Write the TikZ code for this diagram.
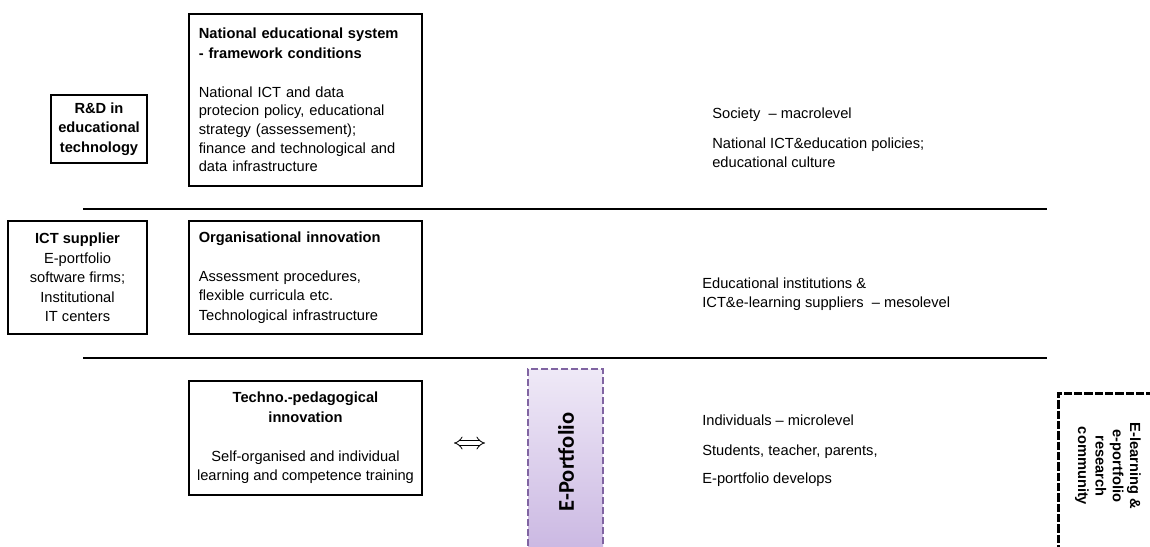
\documentclass[tikz,border=0pt]{standalone}
\usepackage{fontspec}
\usetikzlibrary{arrows.meta}
\setmainfont{Liberation Sans}
\newfontfamily\calibri{Carlito}
\definecolor{epline}{HTML}{8064A2}
\definecolor{eptop}{HTML}{EFE9F7}
\definecolor{epbot}{HTML}{C7B3E0}
\tikzset{
  lvlbox/.style={draw,line width=0.7pt,inner sep=0pt},
  lvltext/.style={align=left,anchor=west,inner sep=0pt,font=\fontsize{8.8}{11.2}\selectfont},
  sep/.style={line width=0.8pt}
}
\begin{document}
\begin{tikzpicture}[x=0.6pt,y=-0.6pt]
  \clip (0,0) rectangle (1150,546);
  % boxes on the left
  \node[lvlbox,minimum width=57.6pt,minimum height=40.8pt,align=center,
    font=\fontsize{8.8}{11.6}\selectfont\bfseries] (rnd) at (99,129)
    {R\&D in\\educational\\technology};
  \node[lvlbox,minimum width=139.8pt,minimum height=103.2pt,text width=128pt,align=left,
    font=\fontsize{8.8}{11.2}\selectfont] (nat) at (305.5,100)
    {\textbf{National educational system}\\[0.8pt]\textbf{- framework conditions}\\[12pt]
     National ICT and data\\protecion policy, educational\\strategy (assessement);\\
     finance and technological and\\data infrastructure};
  \node[lvlbox,minimum width=83.4pt,minimum height=67.8pt,align=center,
    font=\fontsize{8.8}{11.7}\selectfont] (ict) at (77.5,277.5)
    {\textbf{ICT supplier}\\E-portfolio\\software firms;\\Institutional\\IT centers};
  \node[lvlbox,minimum width=139.8pt,minimum height=67.8pt,text width=128pt,align=left,
    font=\fontsize{8.8}{11.6}\selectfont] (org) at (305.5,277.5)
    {\textbf{Organisational innovation}\\[12pt]Assessment procedures,\\flexible curricula etc.\\
     Technological infrastructure};
  \node[lvlbox,minimum width=139.8pt,minimum height=68.4pt,align=center,
    font=\fontsize{8.8}{11.6}\selectfont] (tech) at (305.5,438)
    {\textbf{Techno.-pedagogical}\\\textbf{innovation}\\[12pt]Self-organised and individual\\
     learning and competence training};
  % separators
  \draw[sep] (83,209) -- (1047,209);
  \draw[sep] (83,358) -- (1047,358);
  % e-portfolio
  \node[draw=epline,line width=1.2pt,dash pattern=on 4pt off 2pt,top color=eptop,bottom color=epbot,
    minimum width=45pt,minimum height=120pt,inner sep=0pt,anchor=north west] (eport) at (527,368) {};
  \node[rotate=90,font=\calibri\fontsize{13.5}{14}\selectfont\bfseries] (eptext) at (566,462) {E-Portfolio};
  \coordinate (swapl) at (454,443);
  \coordinate (swapr) at (485,443);
  \draw[line width=0.5pt,double distance=2.2pt,{Implies[length=4pt,width=8pt]}-{Implies[length=4pt,width=8pt]}]
    (swapl) -- (swapr);
  % level texts
  \node[lvltext] (macro) at (712,137.5)
    {Society~ -- macrolevel\\[6.8pt]National ICT\&education policies;\\educational culture};
  \node[lvltext] (meso) at (702,294.5)
    {Educational institutions \&\\ICT\&e-learning suppliers~ -- mesolevel};
  \node[lvltext] (micro) at (702,451)
    {Individuals -- microlevel\\[6.8pt]Students, teacher, parents,\\[5.6pt]E-portfolio develops};
  % research community
  \node[draw,line width=1.6pt,dash pattern=on 5pt off 1.2pt,minimum width=70pt,minimum height=110pt,
    inner sep=0pt,anchor=north west] (commbox) at (1057,392) {};
  \node[rotate=-90,align=center,font=\fontsize{8.8}{10.4}\selectfont\bfseries] (comm) at (1108,466)
    {E-learning \&\\e-portfolio\\research\\community};
\end{tikzpicture}
\end{document}
